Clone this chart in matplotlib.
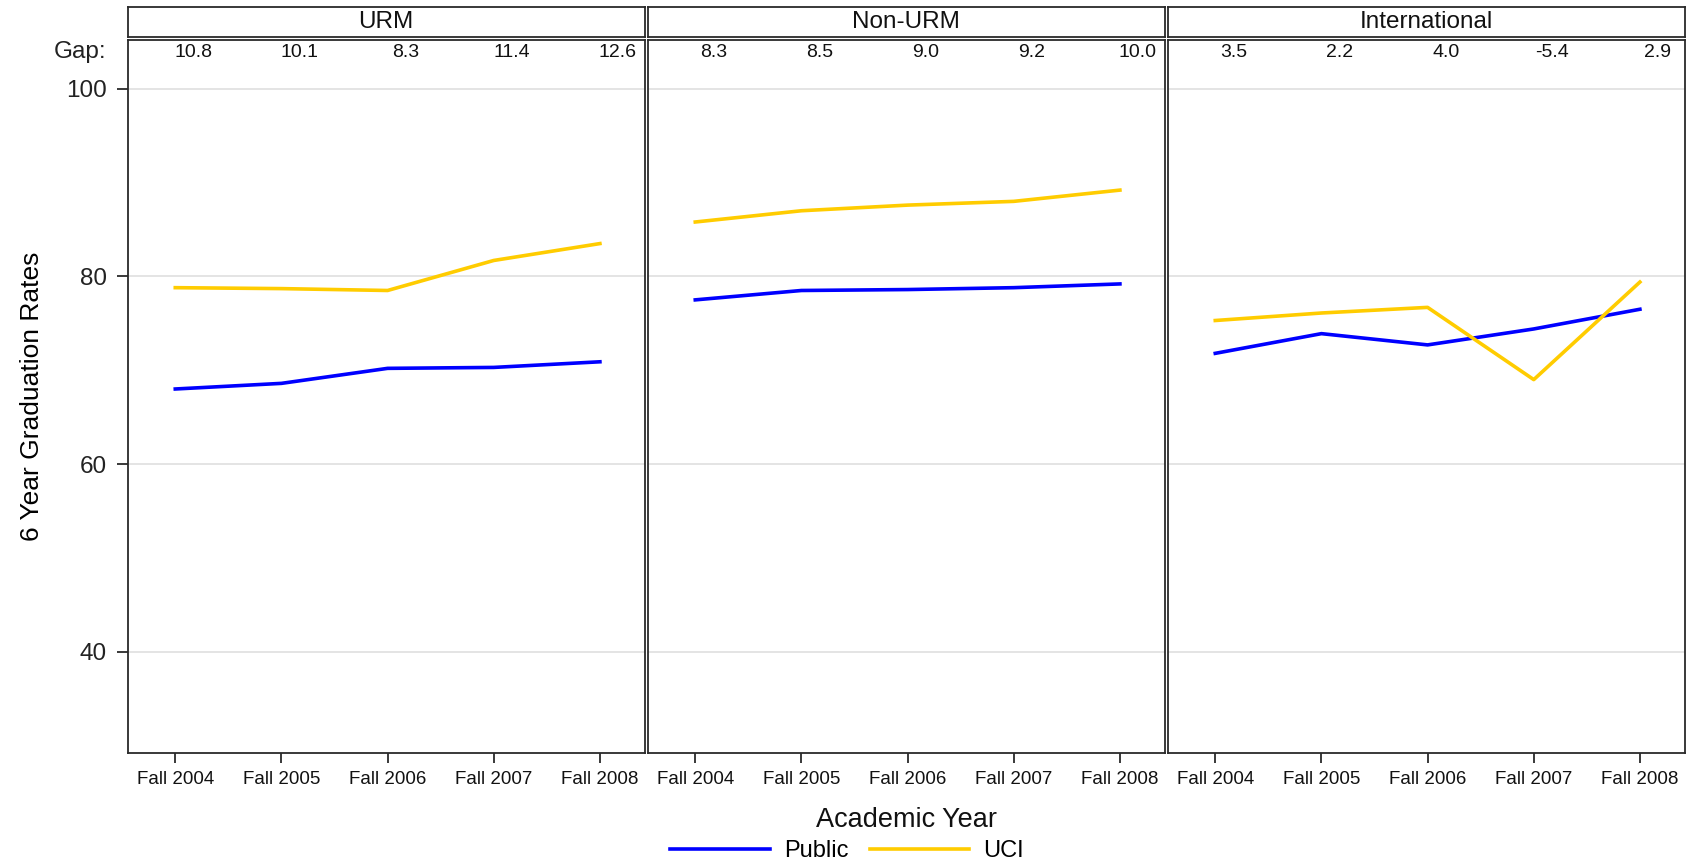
import matplotlib
matplotlib.use('Agg')
import matplotlib.pyplot as plt

# ── Data ────────────────────────────────────────────────────
YEARS = ['Fall 2004', 'Fall 2005', 'Fall 2006', 'Fall 2007', 'Fall 2008']
PANELS = ['URM', 'Non-URM', 'International']

urm_public = [68.0, 68.6, 70.2, 70.3, 70.9]
urm_uci = [78.8, 78.7, 78.5, 81.7, 83.5]
nonurm_public = [77.5, 78.5, 78.6, 78.8, 79.2]
nonurm_uci = [85.8, 87.0, 87.6, 88.0, 89.2]
intl_public = [71.8, 73.9, 72.7, 74.4, 76.5]
intl_uci = [75.3, 76.1, 76.7, 69.0, 79.4]

urm_gap = [10.8, 10.1, 8.3, 11.4, 12.6]
nonurm_gap = [8.3, 8.5, 9.0, 9.2, 10.0]
intl_gap = [3.5, 2.2, 4.0, -5.4, 2.9]

PUBLIC = [urm_public, nonurm_public, intl_public]
UCI = [urm_uci, nonurm_uci, intl_uci]
GAPS = [urm_gap, nonurm_gap, intl_gap]

# ── Style ───────────────────────────────────────────────────
BLUE = '#0000FF'
GOLD = '#FFCC00'
FRAME = '#2a2a2a'
GRID = '#DCDCDC'
plt.rcParams['font.family'] = ['Liberation Sans', 'DejaVu Sans']

W, H = 1694, 863
fig = plt.figure(figsize=(W / 100, H / 100), dpi=100)


def px_axes(x0, y0, x1, y1):
    """Axes from pixel box (top-left origin)."""
    return fig.add_axes([x0 / W, 1 - y1 / H, (x1 - x0) / W, (y1 - y0) / H])


LEFT, PW = 126, 520
xs = list(range(len(YEARS)))
axes = []
for i, name in enumerate(PANELS):
    x0 = LEFT + PW * i
    ax = px_axes(x0 + 1.5, 40, x0 + PW - 1.5, 753)
    axes.append(ax)
    ax.plot(xs, PUBLIC[i], color=BLUE, lw=2.6, label='Public', zorder=3)
    ax.plot(xs, UCI[i], color=GOLD, lw=2.6, label='UCI', zorder=3)
    ax.set_xlim(-0.45, 4.42)
    ax.set_ylim(29.2, 105.2)
    ax.set_yticks([40, 60, 80, 100])
    ax.yaxis.grid(True, color=GRID, lw=1.1, zorder=0)
    ax.set_axisbelow(True)
    ax.set_xticks(xs)
    ax.set_xticklabels(YEARS, fontsize=13.5)
    ax.tick_params(axis='x', length=7, width=1.3, color=FRAME, pad=6,
                   labelcolor='#111111')
    ax.tick_params(axis='y', length=8, width=1.3, color=FRAME, pad=7,
                   labelsize=17.5, labelcolor='#222222')
    if i > 0:
        ax.tick_params(axis='y', left=False, labelleft=False)
    for s in ax.spines.values():
        s.set_color(FRAME)
        s.set_linewidth(1.3)
    # gap row
    for x, g in zip(xs, GAPS[i]):
        ax.text(x + 0.17, 103.9, f'{g:.1f}', ha='center', va='center',
                fontsize=14, color='#111111')

    # strip header
    sax = px_axes(x0 + 1.5, 7, x0 + PW - 1.5, 37)
    sax.set_xticks([])
    sax.set_yticks([])
    for s in sax.spines.values():
        s.set_color(FRAME)
        s.set_linewidth(1.3)
    sax.text(0.5, 0.5, name, ha='center', va='center', fontsize=17.5,
             color='#111111', transform=sax.transAxes)

axes[0].text(-0.04, 103.9, 'Gap:', ha='right', va='center', fontsize=17.5,
             color='#222222', transform=axes[0].get_yaxis_transform())
axes[0].set_ylabel('6 Year Graduation Rates', fontsize=19, labelpad=16)

fig.text(906 / W, 1 - 820 / H, 'Academic Year', ha='center', va='center',
         fontsize=19.5, color='#111111')

handles, labels = axes[0].get_legend_handles_labels()
fig.legend(handles, labels, loc='center', bbox_to_anchor=(847 / W, 1 - 851 / H),
           ncol=2, frameon=False, fontsize=17, handlelength=4.2,
           handletextpad=0.6, columnspacing=0.9, borderpad=0)

fig.savefig('out.png', dpi=100, facecolor='white')
